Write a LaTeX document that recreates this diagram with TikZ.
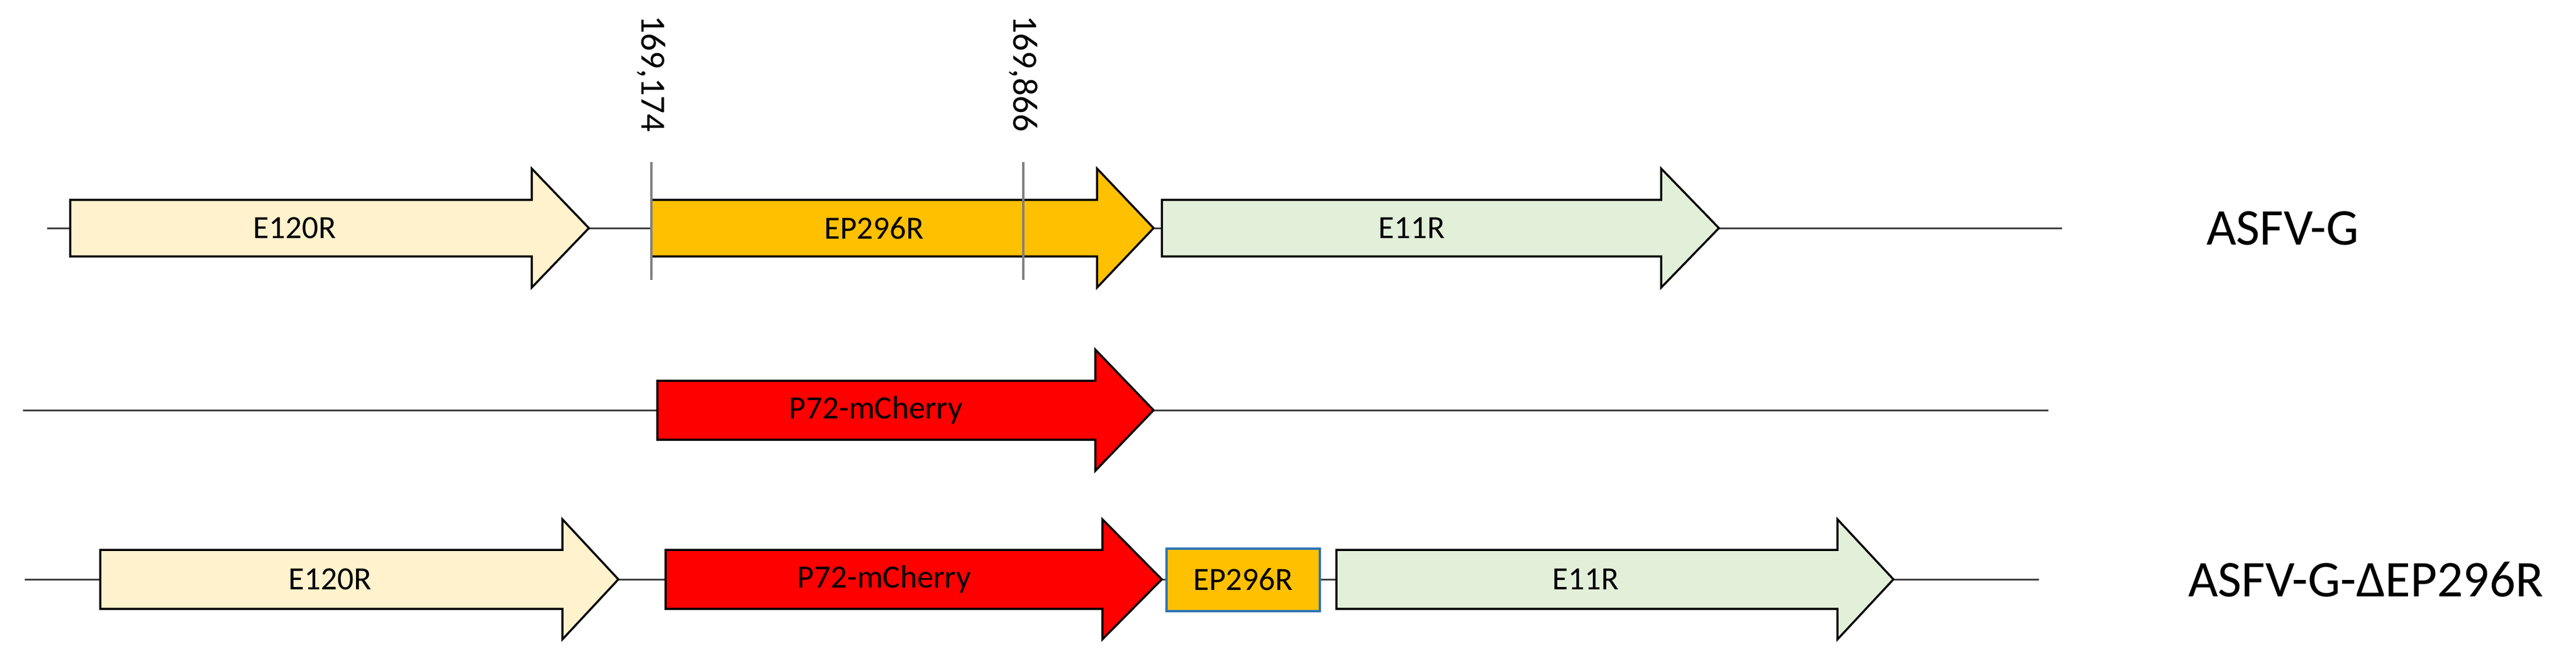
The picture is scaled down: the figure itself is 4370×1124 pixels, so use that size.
\documentclass[tikz,border=0pt]{standalone}
\usepackage{fontspec}
\setmainfont{Carlito}
\begin{document}
\begin{tikzpicture}[x=0.2pt,y=-0.2pt,
  backbone/.style={draw=black!75,line width=0.6pt},
  gene/.style={draw=black,line width=0.7pt,line join=miter},
  glabel/.style={font=\fontsize{11}{13}\selectfont,inner sep=0pt},
  tlabel/.style={font=\fontsize{17.5}{20}\selectfont,inner sep=0pt,anchor=west},
  poslabel/.style={font=\fontsize{12}{14}\selectfont,inner sep=0pt,rotate=-90,anchor=west},
  cut/.style={draw=black!50,line width=0.8pt,dash pattern=on 40pt off 10pt}]
\definecolor{cE120}{HTML}{FFF2CC}
\definecolor{cEP}{HTML}{FFC000}
\definecolor{cE11}{HTML}{E2F0D9}
\definecolor{cRed}{HTML}{FF0000}
\definecolor{cBlue}{HTML}{2E75B6}
\useasboundingbox (0,0) rectangle (4370,1124);
\newcommand\garrow[7]{% x0,xh,xt,yc,hb,hh,fill
  \path[gene,fill=#7] (#1,#4-#5) -- (#2,#4-#5) -- (#2,#4-#6) -- (#3,#4) -- (#2,#4+#6) -- (#2,#4+#5) -- (#1,#4+#5) -- cycle;}
% Row 1
\draw[backbone] (80,387) -- (3498,387);
\garrow{119}{902}{999}{387}{48}{101}{cE120}
\garrow{1105}{1861}{1957}{387}{48}{101}{cEP}
\garrow{1971}{2818}{2916}{387}{48}{101}{cE11}
\node[glabel] (e120a) at (500,387) {E120R};
\node[glabel] (ep296a) at (1483,387) {EP296R};
\node[glabel] (e11a) at (2395,387) {E11R};
\draw[cut] (1105,275) -- (1105,493);
\draw[cut] (1736,275) -- (1736,493);
\node[poslabel] (p1) at (1105,25) {169,174};
\node[poslabel] (p2) at (1736,25) {169,866};
\node[tlabel] (asfvg) at (3742,387) {ASFV-G};
% Row 2
\draw[backbone] (39,696) -- (3475,696);
\garrow{1115}{1858}{1957}{696}{50}{103}{cRed}
\node[glabel] (p72a) at (1486,696) {P72-mCherry};
% Row 3
\draw[backbone] (42,983) -- (3459,983);
\garrow{170}{954}{1049}{983}{50}{102}{cE120}
\garrow{1129}{1870}{1971}{983}{50}{102}{cRed}
\path[draw=cBlue,line width=0.7pt,fill=cEP] (1979,931) rectangle (2239,1037);
\garrow{2267}{3117}{3212}{983}{50}{102}{cE11}
\node[glabel] (e120b) at (560,983) {E120R};
\node[glabel] (p72b) at (1500,983) {P72-mCherry};
\node[glabel] (ep296b) at (2109,983) {EP296R};
\node[glabel] (e11b) at (2690,983) {E11R};
\node[tlabel] (asfvd) at (3711,983) {ASFV-G-ΔEP296R};
\end{tikzpicture}
\end{document}
